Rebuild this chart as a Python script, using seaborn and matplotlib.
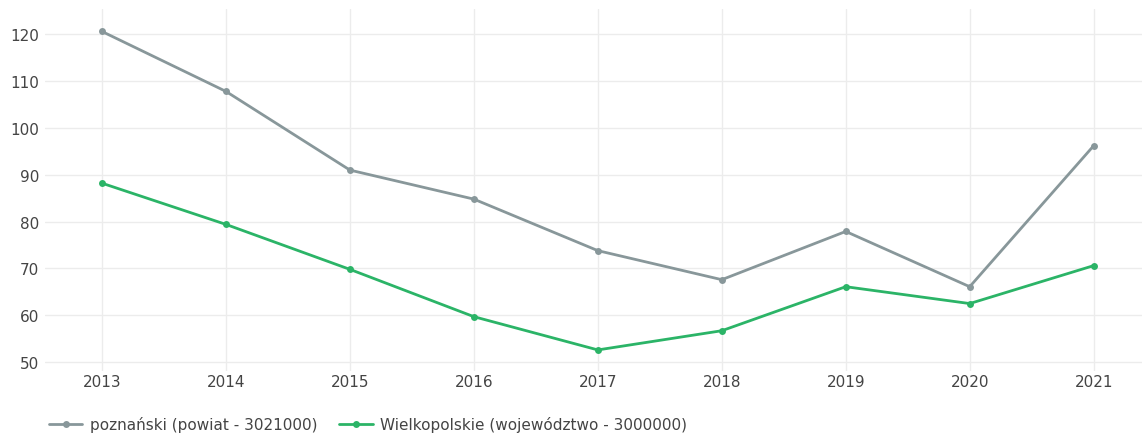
import numpy as np
import pandas as pd
from matplotlib import pyplot as plt
import seaborn as sns

years = [2013, 2014, 2015, 2016, 2017, 2018, 2019, 2020, 2021]
poznanski = [120.6, 107.8, 91.0, 84.8, 73.8, 67.6, 77.9, 66.1, 96.2]
wielkopolskie = [88.2, 79.4, 69.8, 59.7, 52.6, 56.7, 66.1, 62.5, 70.6]
series_names = ['poznański (powiat - 3021000)', 'Wielkopolskie (województwo - 3000000)']
colors = ['#88979a', '#2bb467']

df = pd.DataFrame({
    'rok': years * 2,
    'wartosc': poznanski + wielkopolskie,
    'seria': [series_names[0]] * len(years) + [series_names[1]] * len(years),
})

sns.set_style('white')
plt.rcParams['font.family'] = ['DejaVu Sans']

fig = plt.figure(figsize=(11.42, 4.35), dpi=100)
ax = fig.add_axes([45 / 1142, 1 - 372 / 435, 1097 / 1142, 362 / 435])

sns.lineplot(data=df, x='rok', y='wartosc', hue='seria', palette=colors,
             marker='o', markersize=5, markeredgewidth=0, linewidth=2, ax=ax)

ax.set_xlim(2012.54, 2021.39)
ax.set_ylim(48.1, 125.4)
ax.set_xticks(years)
ax.set_yticks([50, 60, 70, 80, 90, 100, 110, 120])
ax.grid(True, color='#ececec', linewidth=1)
ax.set_axisbelow(True)
for s in ax.spines.values():
    s.set_visible(False)
ax.tick_params(axis='both', length=0, labelsize=11, labelcolor='#444444')
ax.tick_params(axis='x', pad=2)
ax.tick_params(axis='y', pad=4)
ax.set_xlabel('')
ax.set_ylabel('')

handles, labels = ax.get_legend_handles_labels()
ax.legend(handles, labels, loc='center left', bbox_to_anchor=(35 / 1142, 10 / 435),
          bbox_transform=fig.transFigure, ncol=2, frameon=False, fontsize=11,
          labelcolor='#444444', handlelength=2.2, columnspacing=1.4, handletextpad=0.5)

fig.savefig('out.png', dpi=100)
